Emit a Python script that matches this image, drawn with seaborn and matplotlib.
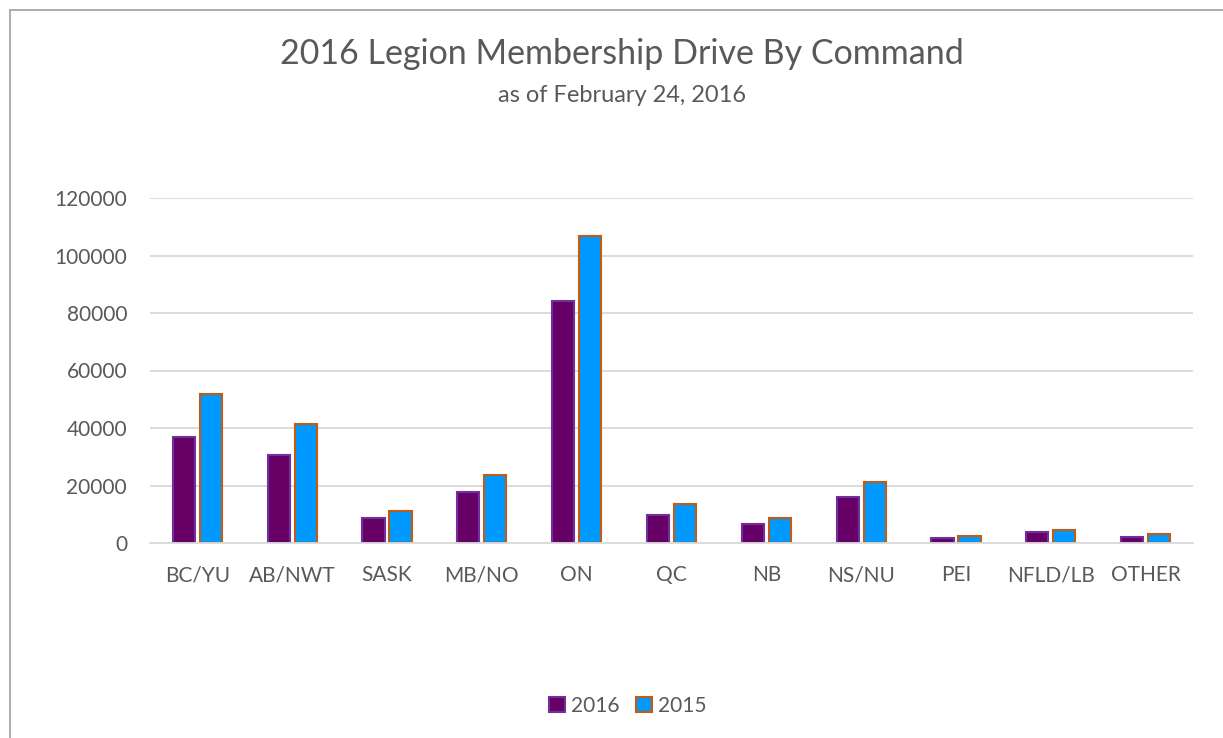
import matplotlib
matplotlib.use("Agg")
import matplotlib.pyplot as plt
import seaborn as sns
import pandas as pd
from matplotlib.lines import Line2D
from matplotlib.patches import Patch

categories = ["BC/YU", "AB/NWT", "SASK", "MB/NO", "ON", "QC", "NB", "NS/NU", "PEI", "NFLD/LB", "OTHER"]
values_2016 = [36800, 30700, 8600, 17800, 84300, 9900, 6700, 16100, 1700, 3700, 2000]
values_2015 = [51800, 41300, 11100, 23800, 106700, 13500, 8800, 21200, 2400, 4500, 3100]
series = ["2016", "2015"]
yticks = [0, 20000, 40000, 60000, 80000, 100000, 120000]

face = {"2016": "#660066", "2015": "#0099FF"}
edge = {"2016": "#7030A0", "2015": "#C55A11"}

df = pd.DataFrame({
    "Command": categories * 2,
    "Members": values_2016 + values_2015,
    "Year": ["2016"] * len(categories) + ["2015"] * len(categories),
})

sns.set_style("white")
plt.rcParams["font.family"] = ["Lato", "DejaVu Sans"]
text_color = "#595959"

W, H = 1223, 738
fig = plt.figure(figsize=(W / 100, H / 100), dpi=100)
ax = fig.add_axes([150 / W, (H - 543) / H, (1193 - 150) / W, (543 - 198) / H])

sns.barplot(data=df, x="Command", y="Members", hue="Year", hue_order=series,
            palette=face, width=0.57, gap=0.18, ax=ax, legend=False, saturation=1)

for container, yr in zip(ax.containers, series):
    for bar in container:
        bar.set_edgecolor(edge[yr])
        bar.set_linewidth(1.5)

ax.set_ylim(0, 120000)
ax.set_yticks(yticks)
ax.set_yticklabels([str(v) for v in yticks])
ax.set_xlim(-0.5, len(categories) - 0.5)
ax.yaxis.grid(True, color="#D9D9D9", linewidth=1.3)
ax.set_axisbelow(True)
for s in ["top", "right", "left"]:
    ax.spines[s].set_visible(False)
ax.spines["bottom"].set_color("#D9D9D9")
ax.spines["bottom"].set_linewidth(1.3)
ax.set_xlabel("")
ax.set_ylabel("")
ax.tick_params(axis="y", length=0, pad=16.5, labelsize=15, labelcolor=text_color)
ax.tick_params(axis="x", length=0, pad=16, labelsize=15, labelcolor=text_color)

fig.text(622 / W, 1 - 54 / H, "2016 Legion Membership Drive By Command",
         ha="center", va="center", fontsize=24.5, color=text_color)
fig.text(622 / W, 1 - 95 / H, "as of February 24, 2016",
         ha="center", va="center", fontsize=17, color=text_color)

handles = [Patch(facecolor=face[s], edgecolor=edge[s], linewidth=1.5, label=s) for s in series]
fig.legend(handles=handles, loc="center", bbox_to_anchor=(628 / W, 1 - 706 / H), ncol=2,
           frameon=False, fontsize=15, labelcolor=text_color, handlelength=0.75,
           handleheight=0.75, handletextpad=0.3, columnspacing=0.8)

# chart area border
fig.add_artist(Line2D([9.5 / W, 9.5 / W], [0, 1 - 10 / H], transform=fig.transFigure,
                      color="#A6A6A6", linewidth=1.3))
fig.add_artist(Line2D([9.5 / W, 1], [1 - 10 / H, 1 - 10 / H], transform=fig.transFigure,
                      color="#A6A6A6", linewidth=1.3))

fig.savefig("out.png", dpi=100, facecolor="white")
